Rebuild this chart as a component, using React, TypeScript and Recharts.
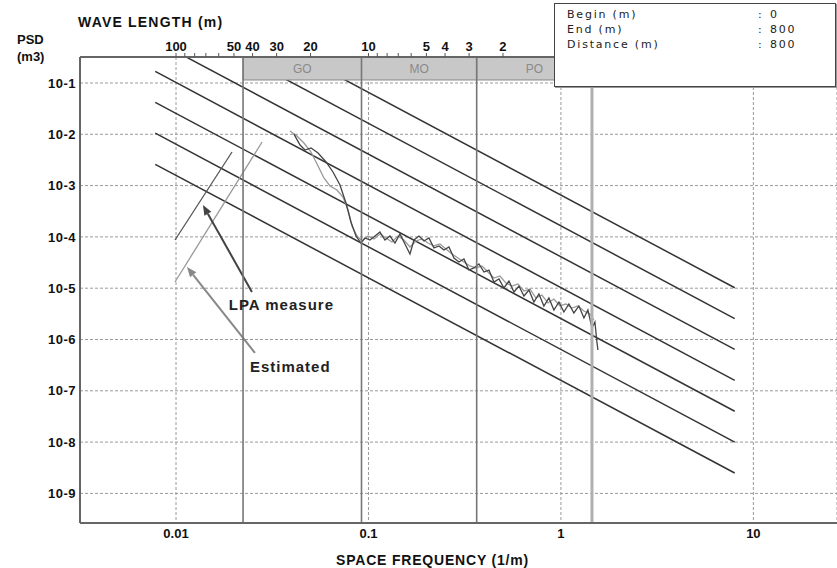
import {
  CartesianGrid,
  ComposedChart,
  Line,
  ReferenceArea,
  ReferenceDot,
  ReferenceLine,
  XAxis,
  YAxis,
} from "recharts";

const FONT = "'Liberation Sans', Arial, sans-serif";

// LPA measure: space frequency (1/m) / PSD (m3)
const lpaFreq = [
  0.041, 0.0441, 0.0468, 0.0503, 0.0547, 0.0602, 0.0654, 0.0711, 0.0764, 0.0811,
  0.0861, 0.0914, 0.0959, 0.1018, 0.1081, 0.1147, 0.1218, 0.1293, 0.1373, 0.1458,
  0.1547, 0.1643, 0.1724, 0.183, 0.1943, 0.2062, 0.2189, 0.2324, 0.2467, 0.2619,
  0.2781, 0.2952, 0.3134, 0.3327, 0.3533, 0.375, 0.3981, 0.4227, 0.4487, 0.4764,
  0.5057, 0.537, 0.5701, 0.6052, 0.6425, 0.6821, 0.7239, 0.7686, 0.8158, 0.8661,
  0.9196, 0.9763, 1.036, 1.1, 1.168, 1.24, 1.317, 1.381, 1.449, 1.502, 1.538, 1.557,
];
const lpaPsd = [
  1.01e-2, 6.18e-3, 4.94e-3, 5.41e-3, 4.32e-3, 2.89e-3, 1.84e-3, 1.03e-3, 4.58e-4, 1.95e-4,
  1.04e-4, 7.6e-5, 9.52e-5, 8.7e-5, 1.04e-4, 1.25e-4, 8.7e-5, 1.04e-4, 7.6e-5, 1.14e-4,
  7.27e-5, 4.64e-5, 8.7e-5, 1.04e-4, 8.32e-5, 9.52e-5, 6.08e-5, 6.65e-5, 5.55e-5, 6.36e-5,
  3.88e-5, 3.24e-5, 3.71e-5, 2.26e-5, 2.48e-5, 2.96e-5, 2.07e-5, 2.26e-5, 1.32e-5, 1.51e-5,
  1.01e-5, 1.38e-5, 8.43e-6, 1.1e-5, 7.05e-6, 9.22e-6, 5.38e-6, 7.71e-6, 4.5e-6, 6.44e-6,
  3.76e-6, 5.38e-6, 3.44e-6, 4.92e-6, 3.29e-6, 4.5e-6, 2.62e-6, 3.76e-6, 1.68e-6, 2.19e-6,
  8.94e-7, 6.24e-7,
];

// Estimated
const estFreq = [
  0.0391, 0.0425, 0.0462, 0.0503, 0.0547, 0.0587, 0.0631, 0.0686, 0.0737, 0.0783,
  0.0821, 0.0872, 0.0925, 0.0994, 0.1068, 0.1147, 0.1233, 0.1325, 0.1423, 0.1529,
  0.1643, 0.1765, 0.1897, 0.2038, 0.2189, 0.2352, 0.2527, 0.2715, 0.2917, 0.3134,
  0.3368, 0.3618, 0.3887, 0.4176, 0.4487, 0.4821, 0.518, 0.5566, 0.598, 0.6425,
  0.6903, 0.7415, 0.7966, 0.8558, 0.9196, 0.9881, 1.062, 1.14, 1.226, 1.317,
  1.415, 1.484,
];
const estPsd = [
  1.16e-2, 9.27e-3, 6.77e-3, 4.52e-3, 2.41e-3, 1.41e-3, 9.82e-4, 8.21e-4, 5.99e-4, 3.35e-4,
  1.63e-4, 1.04e-4, 8.32e-5, 1.04e-4, 9.1e-5, 1.14e-4, 9.52e-5, 7.96e-5, 1.04e-4, 8.7e-5,
  6.36e-5, 8.32e-5, 9.1e-5, 7.6e-5, 6.65e-5, 7.27e-5, 5.81e-5, 4.64e-5, 3.88e-5, 3.24e-5,
  2.71e-5, 2.48e-5, 2.71e-5, 2.07e-5, 1.58e-5, 1.73e-5, 1.26e-5, 1.1e-5, 1.21e-5, 8.82e-6,
  9.65e-6, 6.44e-6, 7.37e-6, 5.15e-6, 6.16e-6, 4.5e-6, 4.92e-6, 4.11e-6, 4.5e-6, 3.59e-6,
  3.14e-6, 2.4e-6,
];

// road class lines: PSD at both frequency ends
const classLineFreq = [0.0078, 8];
const classLineStart = [2.6e-3, 1.05e-2, 4.2e-2, 0.168, 0.673, 2.69, 10.8];
const classLineEnd = [2.5e-9, 1.0e-8, 4.0e-8, 1.6e-7, 6.4e-7, 2.56e-6, 1.02e-5];

// wave bands (frequency edges)
const zoneEdges = [0.0223, 0.092, 0.365, 1.45, 27.2];
const zoneNames = ["GO", "MO", "PO", ""];

const freqTicks = [0.01, 0.1, 1, 10];
const psdTicks = [1e-1, 1e-2, 1e-3, 1e-4, 1e-5, 1e-6, 1e-7, 1e-8, 1e-9];
const waveTicks = [100, 90, 80, 70, 60, 50, 40, 30, 20, 10, 9, 8, 7, 6, 5, 4, 3, 2];
const waveLabelled = [100, 50, 40, 30, 20, 10, 5, 4, 3, 2];

const infoRows = [
  ["Begin (m)", "0"],
  ["End (m)", "800"],
  ["Distance (m)", "800"],
];

const FREQ_DOMAIN = [0.00317, 27.2];
const PSD_DOMAIN = [2.65e-10, 0.321];
const BAND_BOTTOM = 0.1144;

const zip = (fs: number[], ps: number[]) => fs.map((f, i) => ({ f, psd: ps[i] }));

const arrow = (color: string) => (p: any) => {
  const { x1, y1, x2, y2 } = p;
  const a = Math.atan2(y2 - y1, x2 - x1);
  const len = 10;
  const w = 4;
  const bx = x2 - len * Math.cos(a);
  const by = y2 - len * Math.sin(a);
  const pts = `${x2},${y2} ${bx + w * Math.sin(a)},${by - w * Math.cos(a)} ${bx - w * Math.sin(a)},${by + w * Math.cos(a)}`;
  return (
    <g>
      <line x1={x1} y1={y1} x2={bx} y2={by} stroke={color} strokeWidth={2} />
      <polygon points={pts} fill={color} />
    </g>
  );
};

const tickStyle = { fontSize: 13, fontWeight: 700, fill: "#111", fontFamily: FONT };

export default function App() {
  return (
    <div
      style={{
        position: "absolute",
        left: 0,
        top: 0,
        width: 837,
        height: 568,
        background: "#fff",
        fontFamily: FONT,
        overflow: "hidden",
      }}
    >
      <div style={{ position: "absolute", left: 17, top: 32, fontSize: 13, fontWeight: 700, color: "#111" }}>PSD</div>
      <div style={{ position: "absolute", left: 17, top: 49, fontSize: 13, fontWeight: 700, color: "#111" }}>(m3)</div>
      <div
        style={{
          position: "absolute",
          left: 78,
          top: 14,
          fontSize: 14,
          fontWeight: 700,
          letterSpacing: 1.2,
          color: "#111",
        }}
      >
        WAVE LENGTH (m)
      </div>

      <ComposedChart width={837} height={568} margin={{ top: 0, right: 0, bottom: 0, left: 0 }}>
        <CartesianGrid stroke="#9a9a9a" strokeDasharray="3 2" />
        <XAxis
          dataKey="f"
          type="number"
          scale="log"
          domain={FREQ_DOMAIN}
          allowDataOverflow
          ticks={freqTicks}
          interval={0}
          tickFormatter={(v: number) => String(v)}
          tick={tickStyle}
          tickLine={false}
          tickSize={0}
          tickMargin={6}
          height={45}
          axisLine={{ stroke: "#666", strokeWidth: 2 }}
          label={{
            value: "SPACE FREQUENCY (1/m)",
            position: "insideBottom",
            offset: 3,
            dx: -26,
            fontSize: 14,
            fontWeight: 700,
            fill: "#111",
            letterSpacing: 0.8,
          }}
        />
        <XAxis
          xAxisId="top"
          orientation="top"
          dataKey="f"
          type="number"
          scale="log"
          domain={FREQ_DOMAIN}
          allowDataOverflow
          ticks={waveTicks.map((w) => 1 / w)}
          interval={0}
          tickFormatter={(v: number) => {
            const w = Math.round(1 / v);
            return waveLabelled.includes(w) ? String(w) : "";
          }}
          tick={tickStyle}
          tickSize={4}
          tickMargin={2}
          tickLine={{ stroke: "#555" }}
          height={57}
          axisLine={{ stroke: "#666", strokeWidth: 2 }}
        />
        <YAxis
          dataKey="psd"
          type="number"
          scale="log"
          domain={PSD_DOMAIN}
          allowDataOverflow
          ticks={psdTicks}
          interval={0}
          tickFormatter={(v: number) => "10-" + Math.round(-Math.log10(v))}
          tick={{ ...tickStyle, letterSpacing: 0.5 }}
          tickLine={false}
          tickSize={0}
          tickMargin={4}
          width={80}
          axisLine={{ stroke: "#666", strokeWidth: 2 }}
        />

        {classLineStart.map((s, i) => (
          <Line
            key={"cls" + i}
            data={zip(classLineFreq, [s, classLineEnd[i]])}
            dataKey="psd"
            stroke="#333"
            strokeWidth={1.5}
            dot={false}
            activeDot={false}
            isAnimationActive={false}
          />
        ))}

        <Line
          data={zip(estFreq, estPsd)}
          dataKey="psd"
          stroke="#999"
          strokeWidth={1.3}
          dot={false}
          activeDot={false}
          isAnimationActive={false}
        />
        <Line
          data={zip(lpaFreq, lpaPsd)}
          dataKey="psd"
          stroke="#444"
          strokeWidth={1.3}
          dot={false}
          activeDot={false}
          isAnimationActive={false}
        />

        {/* short sample lines + arrows */}
        <ReferenceLine
          segment={[{ x: 0.00988, y: 8.7e-5 }, { x: 0.01954, y: 4.52e-3 }]}
          stroke="#555"
          strokeWidth={1.3}
        />
        <ReferenceLine
          segment={[{ x: 0.00988, y: 1.32e-5 }, { x: 0.028, y: 7.08e-3 }]}
          stroke="#999"
          strokeWidth={1.3}
        />
        <ReferenceLine
          segment={[{ x: 0.0248, y: 8.43e-6 }, { x: 0.0138, y: 4.19e-4 }]}
          shape={arrow("#444")}
        />
        <ReferenceLine
          segment={[{ x: 0.0257, y: 5.46e-7 }, { x: 0.0114, y: 2.59e-5 }]}
          shape={arrow("#888")}
        />
        <ReferenceDot
          x={0.0188}
          y={4.7e-6}
          r={0}
          stroke="none"
          label={{ value: "LPA measure", position: "right", offset: 0, fontSize: 15, fontWeight: 700, fill: "#222", letterSpacing: 1 }}
        />
        <ReferenceDot
          x={0.0242}
          y={2.9e-7}
          r={0}
          stroke="none"
          label={{ value: "Estimated", position: "right", offset: 0, fontSize: 15, fontWeight: 700, fill: "#222", letterSpacing: 1 }}
        />

        {zoneNames.map((name, i) => (
          <ReferenceArea
            key={"zone" + i}
            x1={zoneEdges[i]}
            x2={zoneEdges[i + 1]}
            y1={BAND_BOTTOM}
            y2={PSD_DOMAIN[1]}
            fill="#c8c8c8"
            fillOpacity={1}
            stroke="#888"
            strokeWidth={1}
            zIndex={450}
            label={{ value: name, position: "center", fill: "#8a8a8a", fontSize: 12 }}
          />
        ))}
        {zoneEdges.slice(0, 3).map((e) => (
          <ReferenceLine key={"edge" + e} x={e} stroke="#777" strokeWidth={1.6} zIndex={460} />
        ))}
        <ReferenceLine x={zoneEdges[3]} stroke="#b0b0b0" strokeWidth={3} zIndex={460} />
      </ComposedChart>

      <div
        style={{
          position: "absolute",
          left: 554,
          top: 3,
          width: 280,
          height: 82,
          border: "1.5px solid #444",
          boxShadow: "1px 1px 0 #999",
          background: "#fff",
          fontFamily: "'DejaVu Sans', sans-serif",
          fontSize: 11,
          letterSpacing: 1.8,
          color: "#222",
        }}
      >
        {infoRows.map(([k, v], i) => (
          <div key={k} style={{ position: "absolute", top: 4 + i * 15, left: 12, width: 260, lineHeight: "14px" }}>
            <span>{k}</span>
            <span style={{ position: "absolute", left: 191 }}>:</span>
            <span style={{ position: "absolute", left: 203 }}>{v}</span>
          </div>
        ))}
      </div>
    </div>
  );
}
